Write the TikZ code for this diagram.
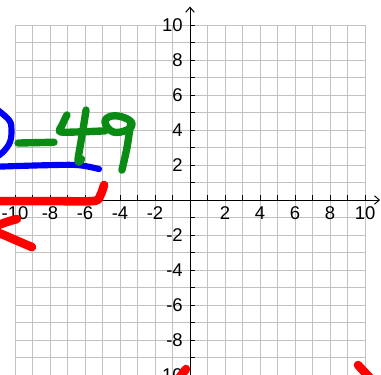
\documentclass[tikz,border=0pt]{standalone}
\usepackage{fontspec}
\setmainfont{Liberation Sans}
\usetikzlibrary{arrows.meta}
\definecolor{inkblue}{RGB}{0,0,245}
\definecolor{inkgreen}{RGB}{10,140,20}
\definecolor{inkred}{RGB}{255,0,0}

\begin{document}
\begin{tikzpicture}[x=0.5cm, y=0.5cm]
        \tikzstyle{gridline} = [draw=black!24, line width=0.7pt]
        \tikzstyle{axis} = [draw=black, line width=0.8pt]
        \tikzstyle{tip} = [-{Straight Barb[length=4pt, width=7pt]}]
        \tikzstyle{ticklabel} = [font=\fontsize{15}{15}\selectfont, inner sep=0pt]
        \tikzstyle{ink} = [line cap=round, line join=round]

        \useasboundingbox (-10.857,-9.943) rectangle (10.914,11.429);
        \clip (-10.857,-9.943) rectangle (10.914,11.429);

        % grid
        \foreach \k in {-10,...,10} {
          \draw[gridline] (\k,-10) -- (\k,10);
          \draw[gridline] (-10,\k) -- (10,\k);
        }

        % axes
        \coordinate (west) at (-11.5,0);
        \coordinate (east) at (10.86,0);
        \coordinate (south) at (0,-11);
        \coordinate (north) at (0,11.05);
        \draw[axis, tip] (west) -- (east);
        \draw[axis, tip] (south) -- (north);
        \foreach \k in {-10,...,10} {
          \draw[axis] (\k,0) -- (\k,0.29);
          \draw[axis] (0,\k) -- (0.29,\k);
        }

        % numbers
        \foreach \k [count=\i] in {-10,-8,-6,-4,-2,2,4,6,8,10} {
          \node[ticklabel] (xl\i) at (\k,-0.77) {\k};
          \node[ticklabel, anchor=east] (yl\i) at (-0.4,\k) {\k};
        }

        % handwriting
        \draw[ink, inkblue, line width=5pt] plot[smooth, tension=0.6] coordinates
          {(-11.14,5.26) (-10.343,4.571) (-10.2,4.0) (-10.286,3.314) (-10.629,2.8) (-10.971,2.514)};
        \draw[ink, inkblue, line width=5pt] plot[smooth, tension=0.5] coordinates
          {(-11.14,1.9) (-8.571,1.98) (-6.457,2.0) (-5.2,1.77)};

        \draw[ink, inkgreen, line width=6pt] (-9.829,3.257) -- (-7.771,3.3);
        \draw[ink, inkgreen, line width=6pt] plot[smooth, tension=0.5] coordinates
          {(-7.03,4.86) (-7.3,4.3) (-7.43,3.9) (-6.4,3.89) (-4.86,3.95)};
        \draw[ink, inkgreen, line width=6pt] plot[smooth, tension=0.5] coordinates
          {(-5.94,5.14) (-6.15,3.8) (-6.4,2.3) (-6.29,2.2) (-6.2,2.35)};
        \draw[ink, inkgreen, line width=6pt] plot[smooth cycle, tension=0.7] coordinates
          {(-4.86,4.46) (-4.46,4.8) (-3.71,4.69) (-3.31,4.34) (-3.6,4.0) (-4.4,3.89)};
        \draw[ink, inkgreen, line width=6pt] plot[smooth, tension=0.5] coordinates
          {(-3.4,4.34) (-3.6,3.0) (-3.89,1.71)};

        \draw[ink, inkred, line width=7pt] plot[smooth, tension=0.5] coordinates
          {(-11.14,-0.06) (-8.0,-0.06) (-5.54,-0.06) (-5.14,0.23) (-4.91,0.86)};
        \draw[ink, inkred, line width=7pt] plot[smooth, tension=0.5] coordinates
          {(-9.89,-1.09) (-10.6,-1.3) (-11.31,-1.66) (-10.4,-2.1) (-9.03,-2.69)};
        \draw[ink, inkred, line width=7pt] (-0.23,-9.66) -- (-0.8,-10.4);
        \draw[ink, inkred, line width=7pt] (9.6,-9.43) -- (10.4,-10.29);
      \end{tikzpicture}
\end{document}
